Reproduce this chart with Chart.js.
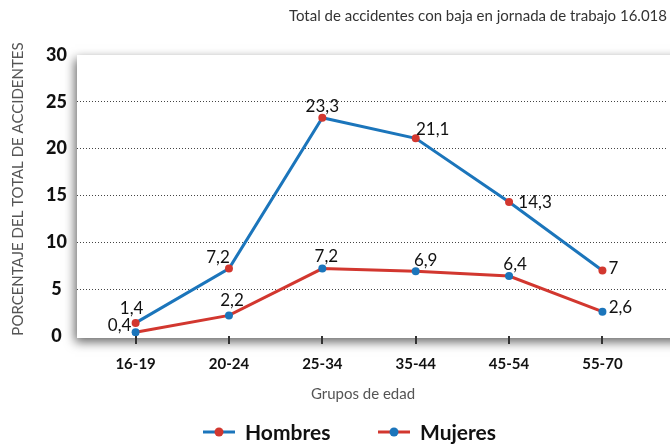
<!DOCTYPE html>
<html>
<head>
<meta charset="utf-8">
<script src="https://cdn.jsdelivr.net/npm/chart.js@4/dist/chart.umd.min.js"></script>
<style>
html,body{margin:0;padding:0;background:#fff;}
canvas{display:block;}
</style>
</head>
<body>
<canvas id="c" width="670" height="446"></canvas>
<script>
const categories = ['16-19','20-24','25-34','35-44','45-54','55-70'];
const hombres = [1.4, 7.2, 23.3, 21.1, 14.3, 7];
const mujeres = [0.4, 2.2, 7.2, 6.9, 6.4, 2.6];
const yTicks = [0, 5, 10, 15, 20, 25, 30];
const seriesNames = ['Hombres', 'Mujeres'];
const topNote = 'Total de accidentes con baja en jornada de trabajo 16.018';
const yTitle = 'PORCENTAJE DEL TOTAL DE ACCIDENTES';
const xTitle = 'Grupos de edad';

// label placement (offsets from each point, px)
const hombresLabelOffsets = [[-4,-15],[-11,-12],[0,-12],[17,-9],[26,0],[11,-2]];
const mujeresLabelOffsets = [[-16,-7],[3,-15],[4,-13],[10,-11],[6,-12],[18,-5]];

const BLUE = '#1b75bb';
const RED = '#d2372f';
const FONT = 'Lato, "Open Sans", sans-serif';

const fmt = v => String(v).replace('.', ',');

const decorPlugin = {
  id: 'decor',
  beforeDraw(chart) {
    const ctx = chart.ctx;
    const a = chart.chartArea;
    ctx.save();
    ctx.fillStyle = '#fff';
    ctx.fillRect(0, 0, chart.width, chart.height);
    ctx.shadowColor = 'rgba(0,0,0,0.6)';
    ctx.shadowBlur = 10;
    ctx.shadowOffsetX = -2;
    ctx.shadowOffsetY = 4;
    ctx.fillRect(a.left, a.top, chart.width + 20 - a.left, a.bottom + 2 - a.top);
    ctx.restore();
  },
  afterDatasetsDraw(chart) {
    const ctx = chart.ctx;
    ctx.save();
    ctx.font = '17px ' + FONT;
    ctx.fillStyle = '#111';
    ctx.textAlign = 'center';
    ctx.textBaseline = 'alphabetic';
    const offs = [hombresLabelOffsets, mujeresLabelOffsets];
    chart.data.datasets.forEach((ds, di) => {
      const meta = chart.getDatasetMeta(di);
      meta.data.forEach((pt, i) => {
        const o = offs[di][i];
        ctx.fillText(fmt(ds.data[i].y), pt.x + o[0], pt.y + o[1] + 6);
      });
    });
    ctx.restore();
  },
  afterDraw(chart) {
    const ctx = chart.ctx;
    ctx.save();
    // top note
    ctx.font = '15px ' + FONT;
    ctx.fillStyle = '#333';
    ctx.textAlign = 'right';
    ctx.textBaseline = 'middle';
    ctx.fillText(topNote, 667, 16);
    // y title
    ctx.save();
    ctx.translate(18, 189);
    ctx.rotate(-Math.PI / 2);
    ctx.font = '15px ' + FONT;
    ctx.fillStyle = '#555';
    ctx.textAlign = 'center';
    ctx.textBaseline = 'middle';
    ctx.fillText(yTitle, 0, 0);
    ctx.restore();
    // x title
    ctx.font = '15px ' + FONT;
    ctx.fillStyle = '#555';
    ctx.textAlign = 'center';
    ctx.textBaseline = 'middle';
    ctx.fillText(xTitle, 363, 394);
    // legend
    const items = [
      {x: 203, line: BLUE, dot: RED, text: seriesNames[0]},
      {x: 378, line: RED, dot: BLUE, text: seriesNames[1]}
    ];
    items.forEach(it => {
      const y = 432;
      ctx.strokeStyle = it.line;
      ctx.lineWidth = 3;
      ctx.beginPath();
      ctx.moveTo(it.x, y);
      ctx.lineTo(it.x + 32, y);
      ctx.stroke();
      ctx.fillStyle = it.dot;
      ctx.beginPath();
      ctx.arc(it.x + 16, y, 4.5, 0, Math.PI * 2);
      ctx.fill();
      ctx.font = 'bold 21px ' + FONT;
      ctx.fillStyle = '#111';
      ctx.textAlign = 'left';
      ctx.textBaseline = 'middle';
      ctx.fillText(it.text, it.x + 42, y + 1);
    });
    ctx.restore();
  }
};

new Chart(document.getElementById('c'), {
  type: 'line',
  data: {
    datasets: [
      {
        label: seriesNames[0],
        data: hombres.map((v, i) => ({x: i, y: v})),
        borderColor: BLUE,
        backgroundColor: RED,
        pointBackgroundColor: RED,
        pointBorderColor: RED,
        pointBorderWidth: 0,
        borderWidth: 3,
        pointRadius: 4,
        tension: 0
      },
      {
        label: seriesNames[1],
        data: mujeres.map((v, i) => ({x: i, y: v})),
        borderColor: RED,
        backgroundColor: BLUE,
        pointBackgroundColor: BLUE,
        pointBorderColor: BLUE,
        pointBorderWidth: 0,
        borderWidth: 3,
        pointRadius: 4,
        tension: 0
      }
    ]
  },
  options: {
    responsive: false,
    animation: false,
    layout: {padding: {top: 55, right: 0, bottom: 0, left: 0}},
    plugins: {legend: {display: false}, tooltip: {enabled: false}, title: {display: false}},
    scales: {
      x: {
        type: 'linear',
        min: -0.6277,
        max: 5.681,
        afterBuildTicks: s => { s.ticks = categories.map((c, i) => ({value: i})); },
        afterFit: s => { s.height = 110; },
        ticks: {
          callback: v => categories[v],
          font: {family: FONT, size: 15, weight: 'bold'},
          color: '#111',
          padding: 11,
          maxRotation: 0,
          autoSkip: false
        },
        grid: {drawOnChartArea: false, drawTicks: true, tickLength: 8, color: '#333', lineWidth: 2},
        border: {display: false}
      },
      y: {
        min: 0,
        max: 30,
        afterBuildTicks: s => { s.ticks = yTicks.map(v => ({value: v})); },
        afterFit: s => { s.width = 77; },
        ticks: {
          font: {family: FONT, size: 18, weight: '900'},
          color: '#111',
          padding: 10,
          crossAlign: 'center'
        },
        grid: {
          drawTicks: false,
          color: c => (c.tick && (c.tick.value === 0 || c.tick.value === 30)) ? 'rgba(0,0,0,0)' : '#444',
          lineWidth: 1
        },
        border: {display: false, dash: [1, 2]}
      }
    }
  },
  plugins: [decorPlugin]
});
</script>
</body>
</html>
